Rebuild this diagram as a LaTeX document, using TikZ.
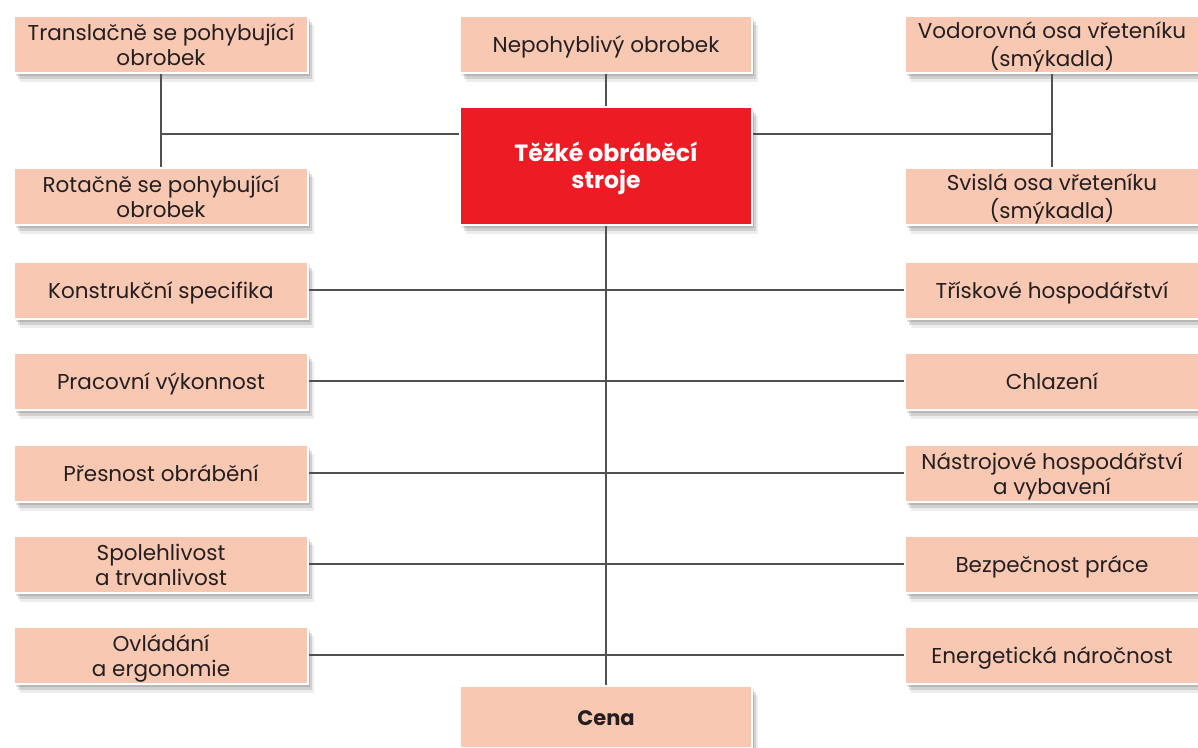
\documentclass[tikz,border=0pt]{standalone}
\usepackage{fontspec}
\setmainfont{Poppins}
\usetikzlibrary{shadows}
\definecolor{peach}{HTML}{F9C8B2}
\definecolor{hred}{HTML}{ED1C24}
\definecolor{ink}{HTML}{231F20}
\definecolor{conn}{HTML}{505050}
\newcommand\boxtext[1]{\raisebox{-3.5pt}[\height][\depth]{\begin{tabular}{@{}c@{}}#1\end{tabular}}}
\begin{document}
\begin{tikzpicture}[x=1pt,y=-1pt,
  softshadow/.style={
     drop shadow={shadow xshift=2pt,shadow yshift=-3pt,opacity=0.12,fill=black},
     drop shadow={shadow xshift=4pt,shadow yshift=-6pt,opacity=0.12,fill=black},
     drop shadow={shadow xshift=6pt,shadow yshift=-9pt,opacity=0.07,fill=black}},
  box/.style={fill=peach,draw=white,line width=2pt,minimum width=294pt,minimum height=57pt,
     font=\fontsize{21.5}{25}\selectfont,text=ink,inner sep=0pt,softshadow},
  redbox/.style={box,fill=hred,minimum height=118pt,text=white,font=\fontsize{23.5}{27}\selectfont\bfseries},
  conline/.style={draw=conn,line width=1.4pt}]
\useasboundingbox (0,0) rectangle (1198,747);
\fill[white] (0,0) rectangle (1198,747);
% left column
\node[box] (trans) at (161,44) {\boxtext{Translačně se pohybující\\obrobek}};
\node[box] (rot) at (161,196) {\boxtext{Rotačně se pohybující\\obrobek}};
\node[box] (konst) at (161,290) {\boxtext{Konstrukční specifika}};
\node[box] (prac) at (161,381) {\boxtext{Pracovní výkonnost}};
\node[box] (pres) at (161,473) {\boxtext{Přesnost obrábění}};
\node[box] (spol) at (161,564) {\boxtext{Spolehlivost\\a trvanlivost}};
\node[box] (ovl) at (161,655) {\boxtext{Ovládání\\a ergonomie}};
% center
\node[box,minimum width=292pt] (nep) at (606,44) {\boxtext{Nepohyblivý obrobek}};
\node[redbox,minimum width=292pt] (tos) at (606,166) {\boxtext{Těžké obráběcí\\stroje}};
\node[box,minimum width=292pt,minimum height=62pt,font=\fontsize{21}{24}\selectfont\bfseries] (cena) at (606,717) {\boxtext{Cena}};
% right column
\node[box] (vod) at (1052,44) {\boxtext{Vodorovná osa vřeteníku\\(smýkadla)}};
\node[box] (svi) at (1052,196) {\boxtext{Svislá osa vřeteníku\\(smýkadla)}};
\node[box] (tris) at (1052,290) {\boxtext{Třískové hospodářství}};
\node[box] (chl) at (1052,381) {\boxtext{Chlazení}};
\node[box] (nas) at (1052,473) {\boxtext{Nástrojové hospodářství\\a vybavení}};
\node[box] (bez) at (1052,564) {\boxtext{Bezpečnost práce}};
\node[box] (ene) at (1052,655) {\boxtext{Energetická náročnost}};
% connectors
\coordinate (lj) at (161,134);
\coordinate (rj) at (1051,134);
\draw[conline] (trans.south) -- (rot.north);
\draw[conline] (vod.south) -- (svi.north);
\draw[conline] (lj) -- (lj -| tos.west);
\draw[conline] (rj) -- (rj -| tos.east);
\draw[conline] (nep.south) -- (tos.north);
\draw[conline] (tos.south) -- (cena.north);
\draw[conline] (konst.east) -- (tris.west);
\draw[conline] (prac.east) -- (chl.west);
\draw[conline] (pres.east) -- (nas.west);
\draw[conline] (spol.east) -- (bez.west);
\draw[conline] (ovl.east) -- (ene.west);
\end{tikzpicture}
\end{document}
